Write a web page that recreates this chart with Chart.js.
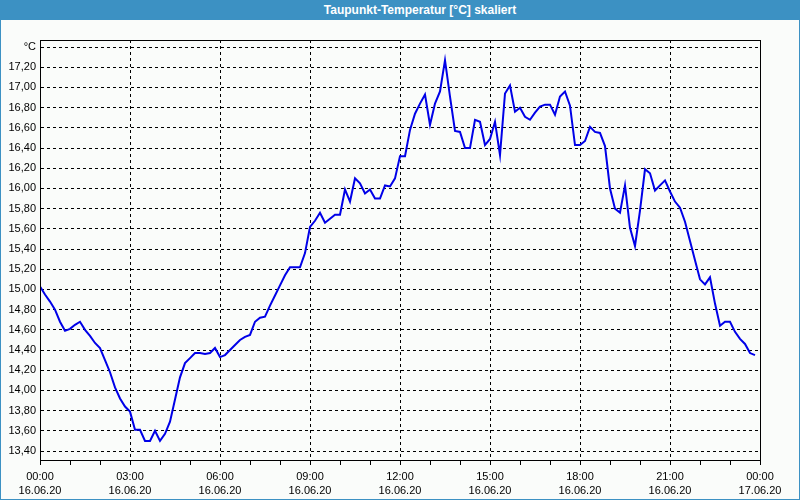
<!DOCTYPE html>
<html>
<head>
<meta charset="utf-8">
<script src="https://cdn.jsdelivr.net/npm/chart.js@4/dist/chart.umd.min.js"></script>
<style>
  html, body { margin: 0; padding: 0; background: #fafcfa; }
  #wrap { position: relative; width: 800px; height: 500px; overflow: hidden; background: #fafcfa; }
  #title { position: absolute; left: 0; top: 0; width: 800px; height: 20px; background: #3c91c3;
           color: #ffffff; font: bold 12px "Liberation Sans", Arial, sans-serif; line-height: 20px;
           text-align: center; box-sizing: border-box; padding-left: 40px; }
  #frame { position: absolute; left: 0; top: 0; width: 800px; height: 500px; box-sizing: border-box;
           border: 1px solid #3c91c3; border-top: none; pointer-events: none; }
  canvas { position: absolute; left: 0; top: 0; }
</style>
</head>
<body>
<div id="wrap">
  <canvas id="c" width="800" height="500"></canvas>
  <div id="title">Taupunkt-Temperatur [°C] skaliert</div>
  <div id="frame"></div>
</div>
<script>
// --- data ---
const titleText = 'Taupunkt-Temperatur [°C] skaliert';
const unitLabel = '°C';
// sample times, minutes after 16.06.20 00:00
const times = [
  0,10,20,30,40,50,60,70,80,90,
  100,110,120,130,140,150,160,170,180,190,
  200,210,220,230,240,250,260,270,280,290,
  300,310,320,330,340,350,360,370,380,390,
  400,410,420,430,440,450,460,470,480,490,
  500,510,520,530,540,550,560,570,580,590,
  600,610,620,630,640,650,660,670,680,690,
  700,710,720,730,740,750,760,770,780,790,
  800,810,820,830,840,850,860,870,880,890,
  900,910,920,930,940,950,960,970,980,990,
  1000,1010,1020,1030,1040,1050,1060,1070,1080,1090,
  1100,1110,1120,1130,1140,1150,1160,1170,1180,1190,
  1200,1210,1220,1230,1240,1250,1260,1270,1280,1290,
  1300,1310,1320,1330,1340,1350,1360,1370,1380,1390,
  1400,1410,1420,1430
];
// dew point temperature, °C
const dewPoint = [
  15.03,14.95,14.88,14.80,14.68,14.59,14.61,14.65,14.68,14.60,
  14.54,14.47,14.42,14.30,14.18,14.03,13.92,13.84,13.79,13.61,
  13.61,13.50,13.50,13.60,13.50,13.57,13.69,13.91,14.13,14.27,
  14.32,14.37,14.37,14.36,14.37,14.42,14.33,14.35,14.40,14.45,
  14.50,14.53,14.55,14.68,14.72,14.73,14.84,14.94,15.04,15.14,
  15.22,15.22,15.22,15.36,15.62,15.68,15.76,15.66,15.70,15.74,
  15.74,15.99,15.87,16.10,16.05,15.95,15.99,15.90,15.90,16.03,
  16.02,16.10,16.32,16.32,16.58,16.74,16.84,16.93,16.63,16.84,
  16.96,17.27,16.91,16.57,16.56,16.40,16.40,16.68,16.66,16.43,
  16.49,16.66,16.33,16.94,17.02,16.76,16.80,16.71,16.68,16.75,
  16.81,16.83,16.83,16.73,16.91,16.96,16.82,16.43,16.43,16.47,
  16.61,16.56,16.55,16.42,16.00,15.80,15.76,16.03,15.61,15.43,
  15.78,16.19,16.15,15.98,16.03,16.08,15.97,15.87,15.81,15.67,
  15.48,15.29,15.10,15.05,15.12,14.86,14.64,14.68,14.68,14.58,
  14.51,14.46,14.37,14.35
];
// x tick labels (every 3 hours) and minute positions
const xTickMinutes = [0,180,360,540,720,900,1080,1260,1440];
const xTickTimes = ['00:00','03:00','06:00','09:00','12:00','15:00','18:00','21:00','00:00'];
const xTickDates = ['16.06.20','16.06.20','16.06.20','16.06.20','16.06.20','16.06.20','16.06.20','16.06.20','17.06.20'];
const xMinorMinutes = [0,60,120,180,240,300,360,420,480,540,600,660,720,780,840,900,960,1020,1080,1140,1200,1260,1320,1380,1440];
// y ticks (top one shows the unit)
const yTicks = [13.4,13.6,13.8,14.0,14.2,14.4,14.6,14.8,15.0,15.2,15.4,15.6,15.8,16.0,16.2,16.4,16.6,16.8,17.0,17.2,17.4];
const yUnitTick = 17.4;

const FONT = '"Liberation Sans", Arial, sans-serif';

const frameBox = {
  id: 'frameBox',
  afterDraw(chart) {
    const {ctx, chartArea: a} = chart;
    ctx.save();
    ctx.strokeStyle = '#000';
    ctx.lineWidth = 1;
    ctx.setLineDash([]);
    ctx.strokeRect(Math.round(a.left) + 0.5, Math.round(a.top) + 0.5,
                   Math.round(a.right - a.left), Math.round(a.bottom - a.top));
    ctx.restore();
  }
};

new Chart(document.getElementById('c'), {
  type: 'line',
  data: {
    labels: times,
    datasets: [{
      label: titleText,
      data: dewPoint,
      borderColor: '#0000e8',
      borderWidth: 2,
      pointRadius: 0,
      tension: 0,
      fill: false
    }]
  },
  options: {
    responsive: false,
    animation: false,
    devicePixelRatio: 1,
    layout: { padding: { top: 40, right: 40, left: 0, bottom: 0 } },
    plugins: { legend: { display: false }, title: { display: false }, tooltip: { enabled: false } },
    scales: {
      x: {
        type: 'linear',
        min: 0, max: 1440,
        afterFit(s) { s.height = 40; },
        afterBuildTicks(s) { s.ticks = xMinorMinutes.map(v => ({ value: v })); },
        grid: {
          color: (c) => (c.tick && xTickMinutes.includes(c.tick.value)) ? '#000' : 'rgba(0,0,0,0)',
          tickColor: '#000',
          lineWidth: 1,
          drawTicks: true,
          tickLength: 5
        },
        border: { display: true, color: '#000', width: 1, dash: [3, 3] },
        ticks: {
          autoSkip: false,
          maxRotation: 0,
          padding: 4,
          color: '#000',
          font: { family: FONT, size: 11, lineHeight: 1.36 },
          callback: (v) => {
            const i = xTickMinutes.indexOf(v);
            return i >= 0 ? [xTickTimes[i], xTickDates[i]] : '';
          }
        }
      },
      y: {
        type: 'linear',
        min: 13.311, max: 17.47,
        afterFit(s) { s.width = 40; },
        afterBuildTicks(s) { s.ticks = yTicks.map(v => ({ value: v })); },
        grid: { color: '#000', lineWidth: 1, drawTicks: false },
        border: { display: true, color: '#000', width: 1, dash: [3, 3] },
        ticks: {
          padding: 4,
          color: '#000',
          font: { family: FONT, size: 11 },
          callback: (v) => Math.abs(v - yUnitTick) < 1e-6 ? unitLabel : v.toFixed(2).replace('.', ',')
        }
      }
    }
  },
  plugins: [frameBox]
});
</script>
</body>
</html>
